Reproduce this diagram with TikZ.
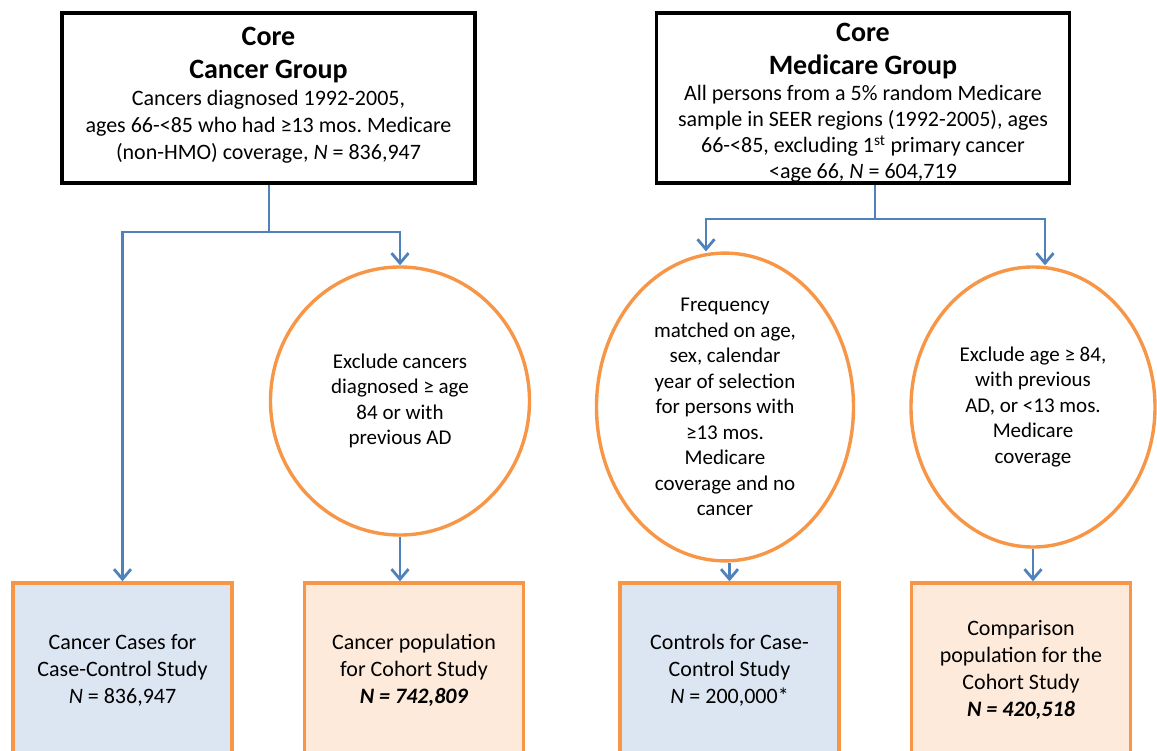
\documentclass[tikz,border=0pt]{standalone}
\usepackage{fontspec}
\setmainfont{Carlito}
\usepackage{tikz}
\usetikzlibrary{arrows.meta,
  shapes.geometric,
  positioning
}
\frenchspacing
\definecolor{linkblue}{RGB}{79,129,189}
\definecolor{ringorange}{RGB}{247,150,70}
\definecolor{caseblue}{RGB}{220,230,242}
\definecolor{cohortorange}{RGB}{253,234,218}
\newcommand{\grouptitle}{\fontsize{28}{33}\selectfont\bfseries}
% text of a core box, moved up or down by #1
\newcommand{\coretext}[2]{\raisebox{#1}[\height][\depth]{\parbox[c]{405pt}{\centering #2}}}
\tikzstyle{corebox} = [draw, line width=3.6pt, minimum width=413pt,
  minimum height=170pt, inner sep=0pt, font=\fontsize{22}{27}\selectfont]
\tikzstyle{filter} = [ellipse, draw=ringorange, line width=3.4pt,
  inner sep=0pt, align=center, font=\fontsize{21}{25.5}\selectfont]
\tikzstyle{studybox} = [draw=ringorange, line width=3.4pt, minimum width=219pt,
  minimum height=174pt, inner sep=0pt, align=center,
  font=\fontsize{22}{27}\selectfont]
\tikzstyle{link} = [draw=linkblue, line width=2.8pt,
  >={Straight Barb[length=10pt,width=17pt]}]

\begin{document}
\begin{tikzpicture}[x=1pt, y=-1pt]
  \useasboundingbox (0,0) rectangle (1157,751);
  \clip (0,0) rectangle (1157,751);

  % core groups
  \node[corebox] (cancer) at (268.5,98) {\coretext{3pt}{{\grouptitle Core\\Cancer Group\par}
    Cancers diagnosed 1992-2005,\\
    ages 66-<85 who had ≥13 mos. Medicare\\
    (non-HMO) coverage, \textit{N} = 836,947}};
  \node[corebox, font=\fontsize{22}{26}\selectfont] (medicare) at (863,98)
    {\coretext{-5pt}{{\grouptitle Core\\Medicare Group\par}
    All persons from a 5\% random Medicare\\
    sample in SEER regions (1992-2005), ages\\
    66-<85, excluding 1\textsuperscript{st} primary cancer\\
    <age 66, \textit{N} = 604,719}};

  % filters
  \node[filter, minimum width=259pt, minimum height=268pt] (exclcancer) at (400,401)
    {Exclude cancers\\diagnosed ≥ age\\84 or with\\previous AD};
  \node[filter, minimum width=257pt, minimum height=304pt] (freqmatch) at (725,407)
    {Frequency\\matched on age,\\sex, calendar\\year of selection\\for persons with\\
    ≥13 mos.\\Medicare\\coverage and no\\cancer};
  \node[filter, minimum width=244pt, minimum height=280pt] (exclage) at (1033,407)
    {Exclude age ≥ 84,\\with previous\\AD, or <13 mos.\\Medicare\\coverage};

  % study populations
  \node[studybox, fill=caseblue] (cases) at (122.5,670)
    {Cancer Cases for\\Case-Control Study\\\textit{N} = 836,947};
  \node[studybox, fill=cohortorange] (cohort) at (414,670)
    {Cancer population\\for Cohort Study\\\textbf{\textit{N = 742,809}}};
  \node[studybox, fill=caseblue] (controls) at (729.5,670)
    {Controls for Case-\\Control Study\\\textit{N} = 200,000*};
  \node[studybox, fill=cohortorange] (comparison) at (1021,670)
    {Comparison\\population for the\\Cohort Study\\\textbf{\textit{N = 420,518}}};

  % cancer branch
  \coordinate (cjoin) at (269,232);
  \coordinate (cright) at (400,232);
  \draw[link] (cancer.south -| cjoin) -- (cjoin);
  \draw[link, ->] (cjoin) -| (cases.north);
  \draw[link, ->] (cjoin) -- (cright) -- (exclcancer.north);
  \draw[link, ->] (exclcancer.south) -- (exclcancer.south |- cohort.north);

  % medicare branch
  \coordinate (mjoin) at (875,219);
  \coordinate (mleft) at (706,219);
  \coordinate (mright) at (1045,219);
  \draw[link] (medicare.south -| mjoin) -- (mjoin);
  \draw[link, ->] (mjoin) -- (mleft) -- (mleft |- freqmatch.north);
  \draw[link, ->] (mjoin) -- (mright) -- (mright |- exclage.north);
  \draw[link, ->] (controls.north |- freqmatch.south) -- (controls.north);
  \draw[link, ->] (exclage.south) -- (exclage.south |- comparison.north);
\end{tikzpicture}
\end{document}
